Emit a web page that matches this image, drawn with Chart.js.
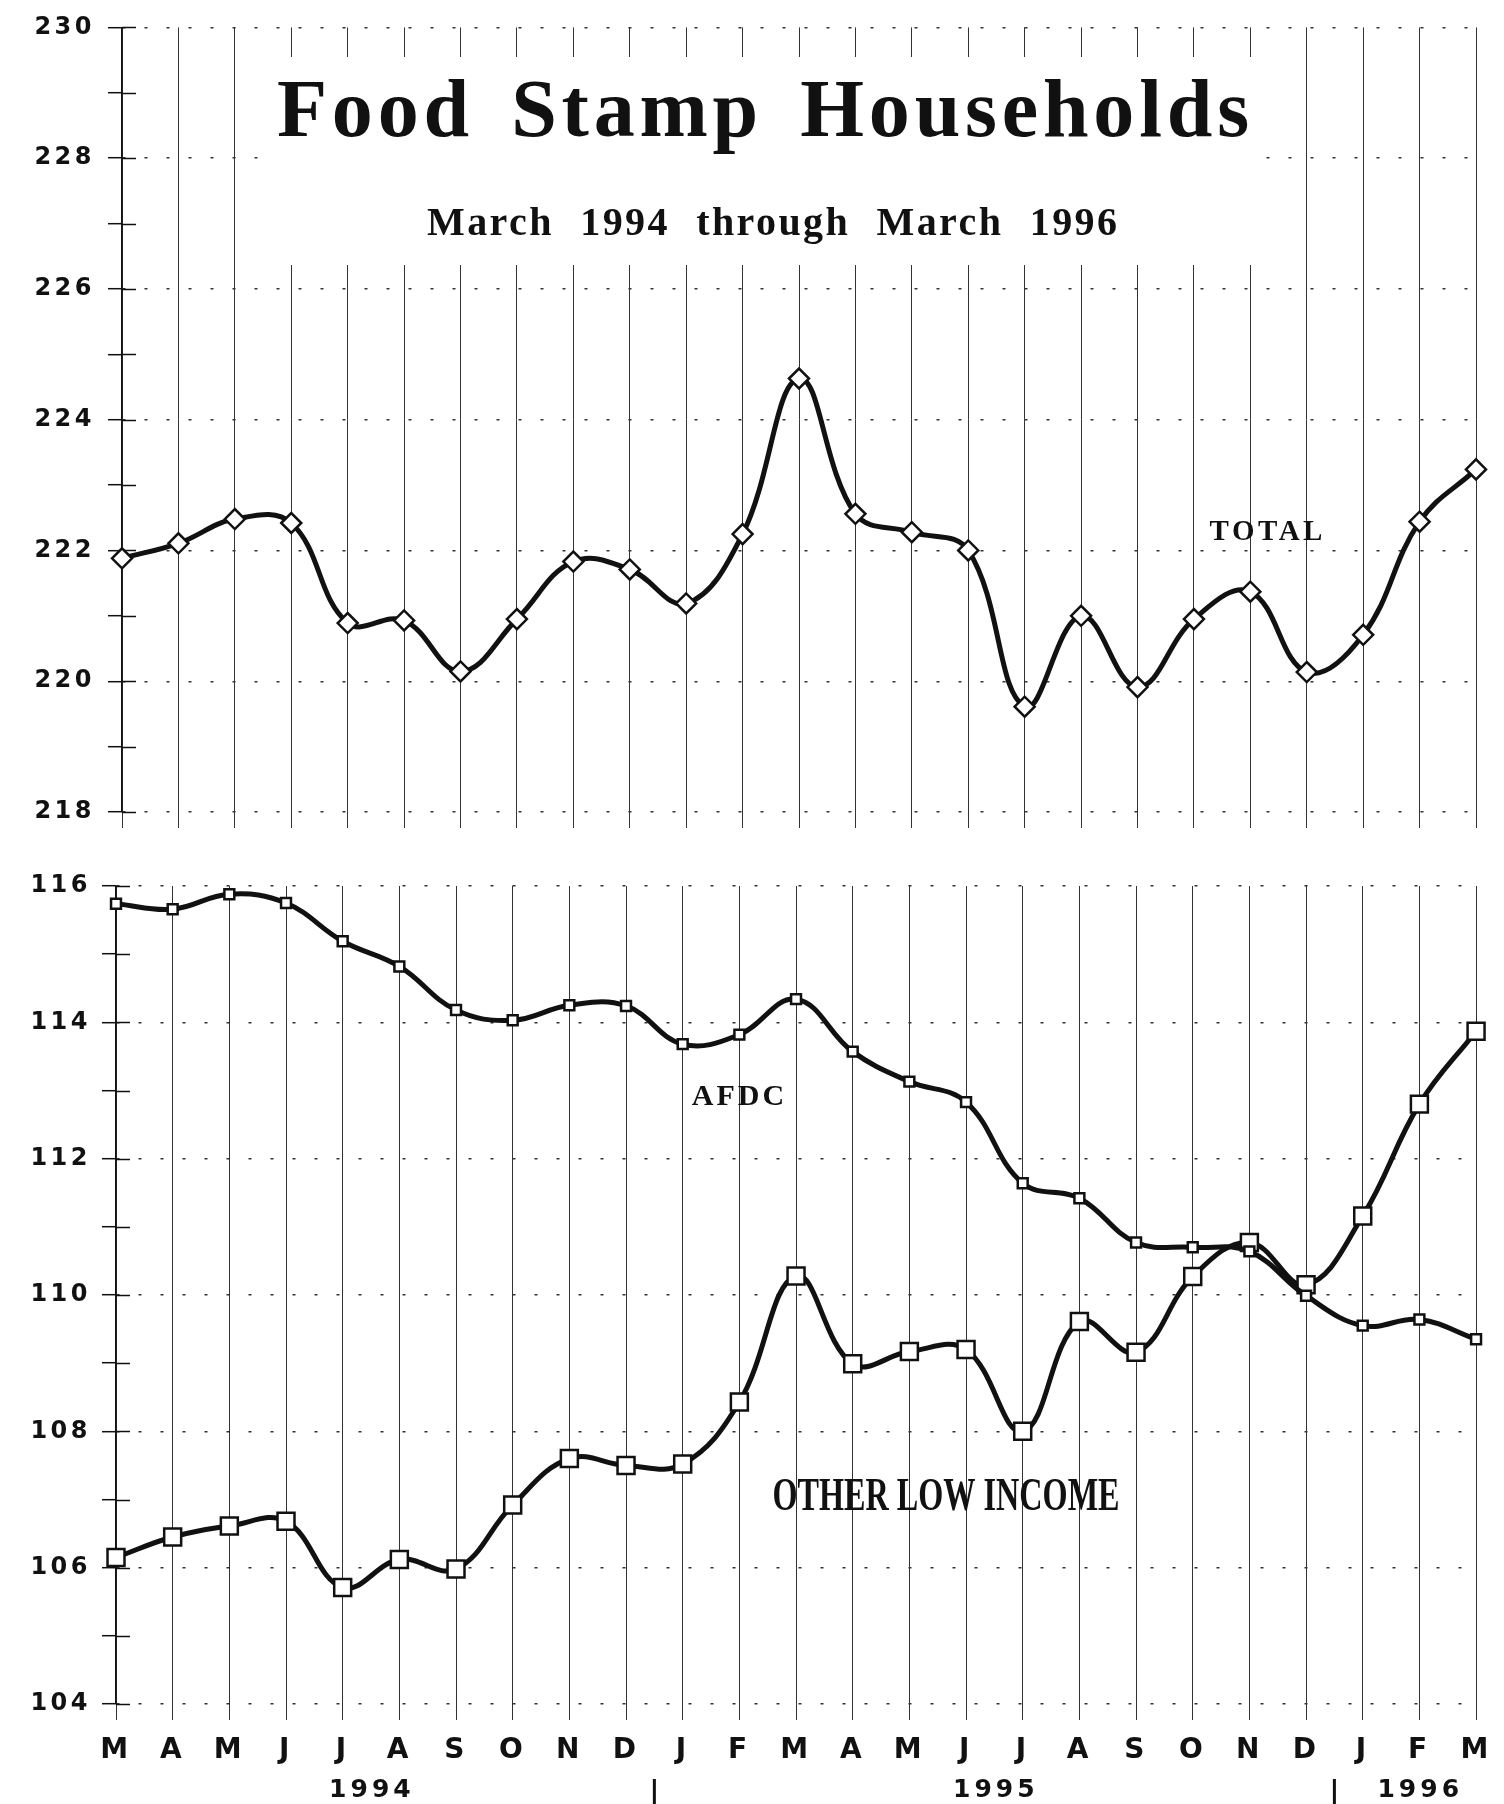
<!DOCTYPE html>
<html>
<head>
<meta charset="utf-8">
<title>Food Stamp Households</title>
<script src="https://cdn.jsdelivr.net/npm/chart.js@4.4.0/dist/chart.umd.min.js"></script>
<style>
  html, body { margin: 0; padding: 0; background: #fff; }
  canvas { display: block; }
</style>
</head>
<body>
<canvas id="topChart" width="1504" height="840"></canvas>
<canvas id="bottomChart" width="1504" height="964"></canvas>
<script>
// months from March 1994 through March 1996
const months = ['M','A','M','J','J','A','S','O','N','D','J','F','M','A','M','J','J','A','S','O','N','D','J','F','M'];

// households
const totalHouseholds = [221.88, 222.11, 222.48, 222.42, 220.89, 220.93, 220.15, 220.95, 221.83, 221.71, 221.19, 222.25, 224.63,
  222.56, 222.28, 222.0, 219.61, 221.0, 219.91, 220.95, 221.37, 220.14, 220.71, 222.44, 223.24];
const afdcHouseholds = [115.74, 115.66, 115.88, 115.75, 115.19, 114.82, 114.18, 114.03, 114.25, 114.24, 113.68, 113.82, 114.34,
  113.57, 113.13, 112.83, 111.64, 111.42, 110.77, 110.7, 110.64, 109.99, 109.55, 109.64, 109.35];
const otherLowIncome = [106.15, 106.45, 106.61, 106.68, 105.71, 106.12, 105.98, 106.92, 107.6, 107.5, 107.52, 108.43, 110.28,
  108.99, 109.17, 109.2, 108.0, 109.61, 109.16, 110.27, 110.77, 110.15, 111.16, 112.8, 113.87];

const years = ['1994', '1995', '1996'];
const yearCenters = [4.48, 15.49, 22.98];   // in month-index units
const yearBreaks = [9.5, 21.5];

const INK = '#111';

function drawText(ctx, text, x, y, opts) {
  ctx.save();
  ctx.font = opts.font;
  ctx.letterSpacing = (opts.spacing || 0) + 'px';
  ctx.wordSpacing = (opts.words || 0) + 'px';
  ctx.fillStyle = INK;
  ctx.textAlign = 'center';
  ctx.textBaseline = opts.baseline || 'alphabetic';
  ctx.translate(x + (opts.spacing || 0) / 2, y);
  ctx.scale(opts.scaleX || 1, 1);
  ctx.fillText(text, 0, 0);
  ctx.restore();
}

// spacing for the wide bold numbers, and the short tick halves inside the plot
const axisLook = {
  id: 'axisLook',
  beforeDraw(chart) { chart.ctx.letterSpacing = '3.5px'; },
  beforeDatasetsDraw(chart) {
    const ctx = chart.ctx, y = chart.scales.y, left = chart.chartArea.left;
    ctx.save();
    ctx.strokeStyle = INK;
    ctx.lineWidth = 1.5;
    y.ticks.forEach(t => {
      const py = Math.round(y.getPixelForValue(t.value)) + 0.5;
      ctx.beginPath();
      ctx.moveTo(left, py);
      ctx.lineTo(left + 14, py);
      ctx.stroke();
    });
    ctx.restore();
  },
  afterDraw(chart) { chart.ctx.letterSpacing = '0px'; }
};

const titleBlock = {
  id: 'titleBlock',
  beforeDatasetsDraw(chart) {
    const ctx = chart.ctx;
    ctx.save();
    ctx.fillStyle = '#fff';
    ctx.fillRect(262, 57, 996, 208);
    ctx.restore();
    drawText(ctx, 'Food Stamp Households', 763, 136, { font: 'bold 82px "Liberation Serif"', spacing: 4.8, words: 12 });
    drawText(ctx, 'March 1994 through March 1996', 772, 235, { font: 'bold 40px "Liberation Serif"', spacing: 2.4, words: 14 });
  },
  afterDraw(chart) {
    drawText(chart.ctx, 'TOTAL', 1266, 533, { font: 'bold 29px "Liberation Serif"', spacing: 3.5, baseline: 'middle' });
  }
};

const bottomNotes = {
  id: 'bottomNotes',
  afterDraw(chart) {
    const ctx = chart.ctx, x = chart.scales.x;
    drawText(ctx, 'AFDC', 738, 257, { font: 'bold 30px "Liberation Serif"', spacing: 3, baseline: 'middle' });
    drawText(ctx, 'OTHER LOW INCOME', 946, 658, { font: 'bold 46px "Liberation Serif"', scaleX: 0.7, baseline: 'middle' });
    years.forEach((yr, i) => {
      drawText(ctx, yr, x.getPixelForValue(yearCenters[i]), 950, { font: 'bold 25px "DejaVu Sans"', spacing: 4, baseline: 'middle' });
    });
    ctx.save();
    ctx.strokeStyle = INK;
    ctx.lineWidth = 3;
    yearBreaks.forEach(b => {
      const px = x.getPixelForValue(b);
      ctx.beginPath();
      ctx.moveTo(px, 939);
      ctx.lineTo(px, 964);
      ctx.stroke();
    });
    ctx.restore();
  }
};

function yAxis(min, max, width, padding) {
  return {
    min, max,
    afterFit: s => { s.width = width; },
    ticks: {
      stepSize: 1, maxTicksLimit: 100, padding, color: INK,
      font: { family: 'DejaVu Sans', weight: 'bold', size: 24 },
      callback: v => v % 2 === 0 ? String(v) : ''
    },
    grid: {
      color: c => (c.tick && c.tick.value % 2 === 0) ? '#333' : 'rgba(0,0,0,0)',
      lineWidth: 1.4, tickColor: INK, tickLength: 14, tickWidth: 1.5
    },
    border: { display: true, color: INK, width: 1.5, dash: [3, 19] }
  };
}

function xAxis(height, showLabels) {
  return {
    type: 'category',
    afterFit: s => { s.height = height; },
    ticks: {
      display: showLabels, autoSkip: false, maxRotation: 0, minRotation: 0, padding: 14, color: INK,
      font: { family: 'DejaVu Sans', weight: 'bold', size: 28 }
    },
    grid: { color: '#333', lineWidth: 1, tickLength: 16, tickColor: '#333', tickWidth: 1 },
    border: { display: false }
  };
}

function series(data, style, radius) {
  return {
    data, borderColor: INK, borderWidth: 5, tension: 0.4, clip: false,
    pointStyle: style, pointRadius: radius, pointHoverRadius: radius,
    pointBackgroundColor: '#fff', pointBorderColor: INK, pointBorderWidth: 2.5
  };
}

const common = {
  responsive: false, animation: false, devicePixelRatio: 1,
  plugins: { legend: { display: false }, tooltip: { enabled: false } }
};

new Chart(document.getElementById('topChart'), {
  type: 'line',
  data: { labels: months, datasets: [series(totalHouseholds, 'rectRot', 10)] },
  options: {
    ...common,
    layout: { padding: { top: 16, right: 28, left: 0, bottom: 0 } },
    scales: { x: xAxis(28, false), y: yAxis(218, 230, 122, 13) }
  },
  plugins: [axisLook, titleBlock]
});

new Chart(document.getElementById('bottomChart'), {
  type: 'line',
  data: {
    labels: months,
    datasets: [series(afdcHouseholds, 'rect', 7), series(otherLowIncome, 'rect', 12)]
  },
  options: {
    ...common,
    layout: { padding: { top: 46, right: 26, left: 0, bottom: 0 } },
    scales: { x: xAxis(100, true), y: yAxis(104, 116, 116, 11) }
  },
  plugins: [axisLook, bottomNotes]
});
</script>
</body>
</html>
